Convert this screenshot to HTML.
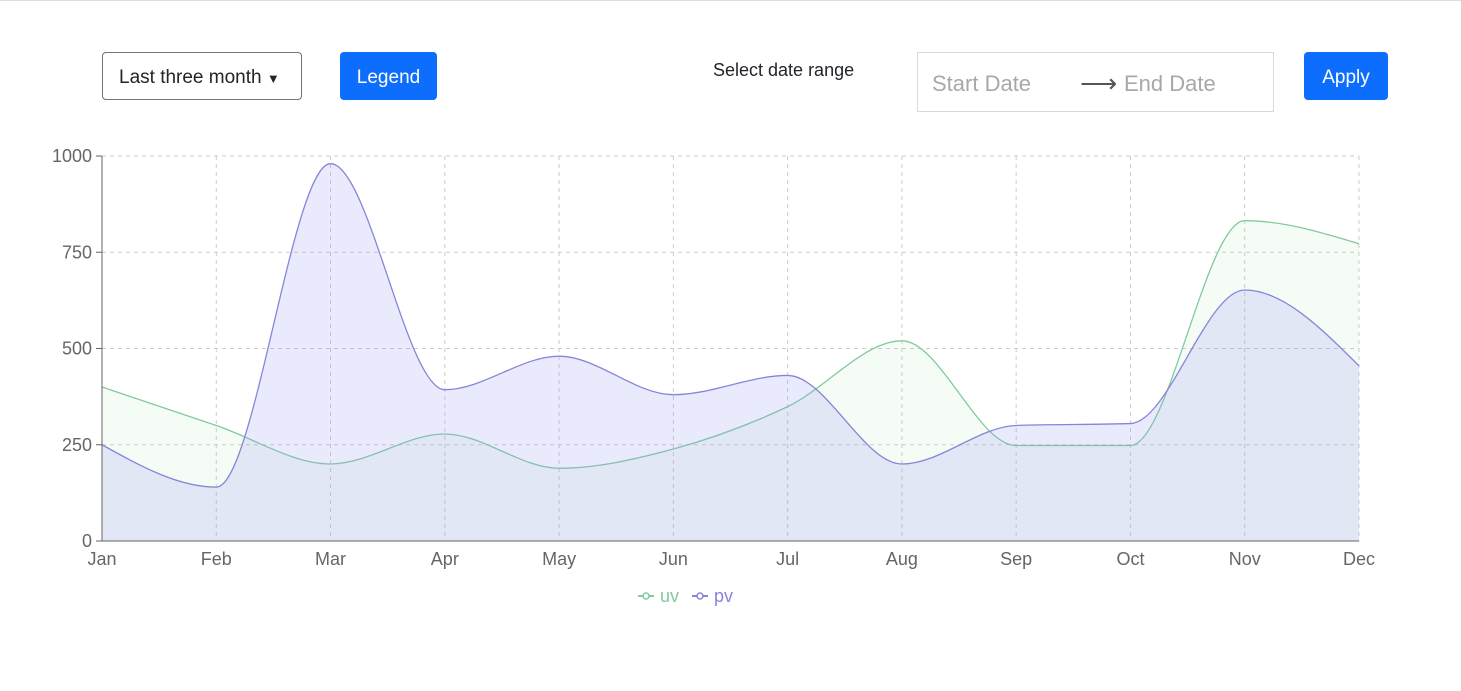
<!DOCTYPE html>
<html><head><meta charset="utf-8"><style>
body{margin:0;width:1461px;height:691px;background:#fff;font-family:"Liberation Sans",sans-serif;position:relative;overflow:hidden}
.topline{position:absolute;left:0;top:0;width:1461px;height:1px;background:#ddd}
.dd{position:absolute;left:102px;top:52px;border:1px solid #6c757d;border-radius:4px;box-sizing:border-box;width:200px;height:48px;font-size:19px;color:#212529;line-height:50px;padding-left:16px}
.btn{position:absolute;top:52px;height:48px;background:#0d6efd;color:#fff;border-radius:4px;font-size:19px;line-height:52px;text-align:center}
.lbl{position:absolute;left:713px;top:60px;font-size:18px;color:#212529}
.date{position:absolute;left:917px;top:52px;width:357px;height:60px;border:1px solid #d9d9d9;box-sizing:border-box;font-size:22px;color:#a8a8a8}
svg{position:absolute;left:0;top:0}
</style></head><body>
<div class="topline"></div>
<div class="dd">Last three month <span style="font-size:13px">▼</span></div>
<div class="btn" style="left:340px;width:97px">Legend</div>
<div class="lbl">Select date range</div>
<div class="date">
<span style="position:absolute;left:14px;top:18px">Start Date</span>
<span style="position:absolute;left:162px;top:15px;color:#555;font-size:26px">⟶</span>
<span style="position:absolute;left:206px;top:18px">End Date</span>
</div>
<div class="btn" style="left:1304px;width:84px">Apply</div>
<svg id="chart" width="1461" height="691"></svg>
<script>
const months=["Jan","Feb","Mar","Apr","May","Jun","Jul","Aug","Sep","Oct","Nov","Dec"];
const uv=[400,300,200,278,189,239,349,520,248,248,832,772];
const pv=[250,140,980,393,480,380,430,200,300,305,652,455];
const yTicks=[0,250,500,750,1000];
const L=102,R=1359,T=156,B=541;
const x=i=>L+i*(R-L)/(months.length-1);
const y=v=>B-v*(B-T)/1000;
const svg=document.getElementById('chart');
const NS="http://www.w3.org/2000/svg";
function mk(t,a){const e=document.createElementNS(NS,t);for(const k in a)e.setAttribute(k,a[k]);svg.appendChild(e);return e;}
function mono(pts){
 const n=pts.length,dx=[],s=[],m=[];
 for(let i=0;i<n-1;i++){dx[i]=pts[i+1][0]-pts[i][0];s[i]=(pts[i+1][1]-pts[i][1])/dx[i];}
 m[0]=s[0];m[n-1]=s[n-2];
 for(let i=1;i<n-1;i++){if(s[i-1]*s[i]<=0)m[i]=0;else{const h0=dx[i-1],h1=dx[i];const p=(s[i-1]*h1+s[i]*h0)/(h0+h1);m[i]=(Math.sign(s[i-1])+Math.sign(s[i]))*Math.min(Math.abs(s[i-1]),Math.abs(s[i]),0.5*Math.abs(p));}}
 m[0]=(3*s[0]-m[1])/2; m[n-1]=(3*s[n-2]-m[n-2])/2;
 let d="M"+pts[0][0]+","+pts[0][1];
 for(let i=0;i<n-1;i++){const h=dx[i]/3;d+=`C${pts[i][0]+h},${pts[i][1]+h*m[i]} ${pts[i+1][0]-h},${pts[i+1][1]-h*m[i+1]} ${pts[i+1][0]},${pts[i+1][1]}`;}
 return d;
}
yTicks.forEach(v=>{const g=mk('line',{x1:L,x2:R,y1:y(v),y2:y(v),stroke:'#ccc','stroke-dasharray':'4 4'});
});
months.forEach((m,i)=>{const g=mk('line',{x1:x(i),x2:x(i),y1:T,y2:B,stroke:'#ccc','stroke-dasharray':'4 4'});
});
function series(vals,stroke,fill,name){
 const pts=vals.map((v,i)=>[x(i),y(v)]);const d=mono(pts);
 const a=mk('path',{d:d+`L${x(vals.length-1)},${B}L${x(0)},${B}Z`,fill:fill,stroke:'none'});
 
 const l=mk('path',{d:d,fill:'none',stroke:stroke,'stroke-width':1.3});
 
}
series(uv,'#82ca9d','rgba(140,220,150,0.09)','uv');
series(pv,'#8884d8','rgba(150,150,245,0.2)','pv');
let ax=mk('line',{x1:L,x2:L,y1:T,y2:B,stroke:'#666'});
ax=mk('line',{x1:L,x2:R,y1:B,y2:B,stroke:'#666'});
yTicks.forEach(v=>{const t=mk('text',{x:92,y:y(v)+6,'text-anchor':'end','font-size':18,fill:'#666'});t.textContent=v;

const k=mk('line',{x1:96,x2:L,y1:y(v),y2:y(v),stroke:'#666'});});
months.forEach((m,i)=>{const t=mk('text',{x:x(i),y:565,'text-anchor':'middle','font-size':18,fill:'#666'});t.textContent=m;
});
[['uv','#82ca9d',638],['pv','#8884d8',692]].forEach(([n,c,lx])=>{
 const g=document.createElementNS(NS,'g');svg.appendChild(g);
 
 g.innerHTML=`<line x1="${lx}" x2="${lx+16}" y1="596" y2="596" stroke="${c}" stroke-width="2"/><circle cx="${lx+8}" cy="596" r="3" fill="#fff" stroke="${c}" stroke-width="1.5"/><text x="${lx+22}" y="602" font-size="18" fill="${c}">${n}</text>`;
});
</script>
</body></html>
